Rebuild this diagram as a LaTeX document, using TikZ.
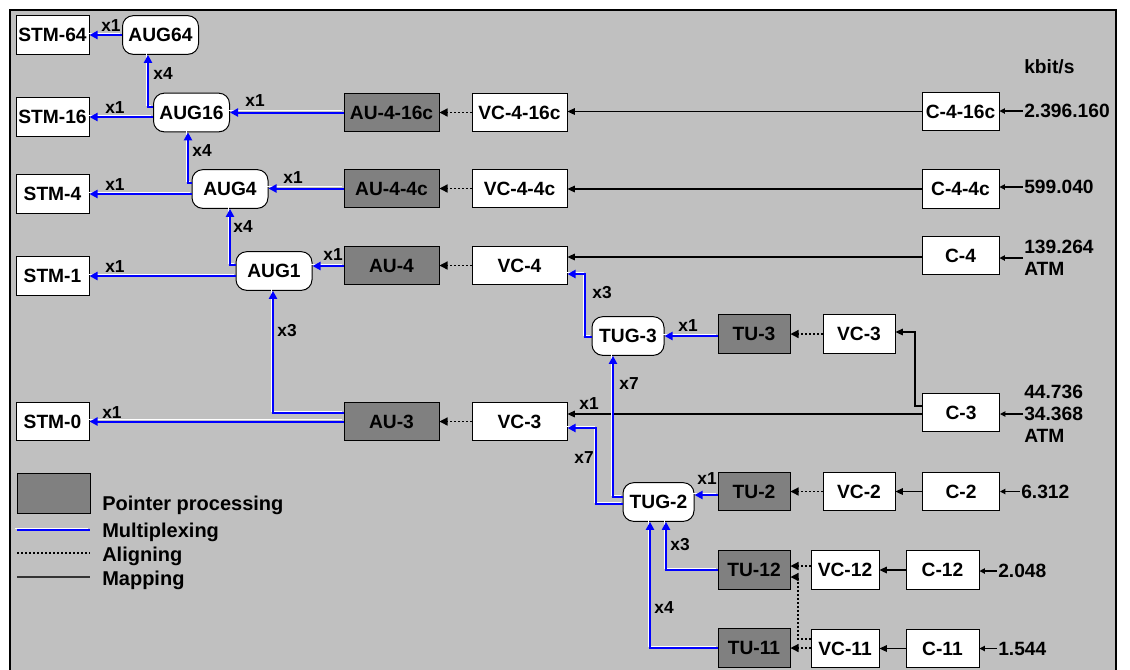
\documentclass[tikz,border=0pt]{standalone}
\usepackage{fontspec}
\setmainfont{Liberation Sans}
\usetikzlibrary{arrows.meta,calc}
\definecolor{bg}{HTML}{C0C0C0}
\definecolor{pp}{HTML}{808080}
\definecolor{muxc}{HTML}{0000FF}
\begin{document}
\begin{tikzpicture}[x=0.75pt,y=-0.75pt,
  every node/.style={font=\fontsize{14.4pt}{16.5pt}\selectfont\bfseries, inner sep=0pt},
  box/.style={draw=black, line width=0.75pt, fill=white, minimum height=29pt},
  ppbox/.style={box, fill=pp},
  rbox/.style={box, rounded corners=8pt},
  stmbox/.style={box, minimum width=54.75pt},
  augbox/.style={rbox, minimum width=57pt},
  aubox/.style={ppbox, minimum width=71.25pt},
  vcbox/.style={box, minimum width=71.25pt},
  cbox/.style={box, minimum width=57.75pt},
  tubox/.style={ppbox, minimum width=54pt},
  smbox/.style={box, minimum width=54pt},
  lab/.style={font=\fontsize{13pt}{15pt}\selectfont\bfseries},
  legt/.style={anchor=base west, font=\fontsize{15pt}{17pt}\selectfont\bfseries},
  rate/.style={anchor=west, align=left, inner sep=0.75pt},
  muxl/.style={draw=muxc, line width=1.5pt, preaction={draw=white, line width=0.9pt, arrows=-, transform canvas={shift={(-1.3pt,1.3pt)}}}},
  muxa/.style={muxl, -{Triangle[length=6pt,width=6pt]}},
  mapl/.style={draw=black, line width=0.8pt},
  mapa/.style={mapl, -{Triangle[length=5.5pt,width=5pt]}},
  ratea/.style={mapl, -{Triangle[length=4pt,width=4pt]}},
  alil/.style={draw=black, line width=1pt, dash pattern=on 1.5pt off 1.5pt},
  alia/.style={alil, -{Triangle[length=6pt,width=6pt]}},
]
\useasboundingbox (0,0) rectangle (1130,669);
\clip (0,0) rectangle (1130,669);
\fill[white] (0,0) rectangle (1130,669);
\draw[fill=bg, line width=1.5pt] (10,10) rectangle (1116,700);

% STM column
\node[stmbox] (stm64) at (52.5,35) {STM-64};
\node[stmbox] (stm16) at (52.5,117) {STM-16};
\node[stmbox] (stm4) at (52.5,194) {STM-4};
\node[stmbox] (stm1) at (52.5,276) {STM-1};
\node[stmbox] (stm0) at (52.5,421.5) {STM-0};

% AUG
\node[augbox] (aug64) at (160.5,35) {AUG64};
\node[augbox] (aug16) at (191.5,112.5) {AUG16};
\node[augbox] (aug4) at (230,189) {AUG4};
\node[augbox] (aug1) at (274,271) {AUG1};

% AU
\node[aubox] (au416) at (391.5,112.5) {AU-4-16c};
\node[aubox] (au44) at (391.5,188.5) {AU-4-4c};
\node[aubox] (au4) at (391.5,265.5) {AU-4};
\node[aubox] (au3) at (391.5,421.5) {AU-3};

% VC
\node[vcbox] (vc416) at (519.5,112.5) {VC-4-16c};
\node[vcbox] (vc44) at (519.5,188.5) {VC-4-4c};
\node[vcbox] (vc4) at (519.5,265.5) {VC-4};
\node[vcbox] (vc3l) at (519.5,421.5) {VC-3};

% C
\node[cbox] (c416) at (960.5,111.5) {C-4-16c};
\node[cbox] (c44) at (960.5,189) {C-4-4c};
\node[cbox] (c4) at (960.5,255.5) {C-4};
\node[cbox] (c3) at (961,412.5) {C-3};
\node[cbox] (c2) at (961,491.5) {C-2};

% lower part
\node[smbox] (vc3r) at (859,334) {VC-3};
\node[smbox] (vc2) at (859,491.5) {VC-2};
\node[tubox] (tu3) at (754,334) {TU-3};
\node[tubox] (tu2) at (754,491.5) {TU-2};
\node[tubox] (tu12) at (754,570) {TU-12};
\node[tubox] (tu11) at (754,648) {TU-11};
\node[rbox, minimum width=54pt] (tug3) at (628,336) {TUG-3};
\node[rbox, minimum width=53.25pt] (tug2) at (658.5,502) {TUG-2};
\node[box, minimum width=51pt] (vc12) at (845,570) {VC-12};
\node[box, minimum width=51pt] (vc11) at (845,648.5) {VC-11};
\node[stmbox] (c12) at (942.5,570) {C-12};
\node[stmbox] (c11) at (942.5,648.5) {C-11};

% rates
\node[rate] (kb) at (1023,67) {kbit/s};
\node[rate] (r1) at (1023,111) {2.396.160};
\node[rate] (r2) at (1023,187) {599.040};
\node[rate] (r3) at (1023,258) {139.264\\ATM};
\node[rate] (r4) at (1023,414) {44.736\\34.368\\ATM};
\node[rate] (r5) at (1020,491.5) {6.312};
\node[rate] (r6) at (997,571) {2.048};
\node[rate] (r7) at (997,648.5) {1.544};
\draw[ratea] (r1.west) -- (c416.east |- r1.west);
\draw[ratea] (r2.west) -- (c44.east |- r2.west);
\draw[ratea] (r3.west) -- (c4.east |- r3.west);
\draw[ratea] (r4.west) -- (c3.east |- r4.west);
\draw[ratea] (r5.west) -- (c2.east |- r5.west);
\draw[ratea] (r6.west) -- (c12.east |- r6.west);
\draw[ratea] (r7.west) -- (c11.east |- r7.west);

% mapping
\draw[mapa] (c416.west) -- (vc416.east |- c416.west);
\draw[mapa] (c44.west) -- (vc44.east |- c44.west);
\draw[mapa] (c4.west |- 0,257) -- (vc4.east |- 0,257);
\draw[mapa] (c3.west |- 0,414) -- (vc3l.east |- 0,414);
\draw[mapa] (c3.west |- 0,406) -| (915,332) -- (vc3r.east |- 0,332);
\draw[mapa] (c2.west) -- (vc2.east |- c2.west);
\draw[mapa] (c12.west) -- (vc12.east |- c12.west);
\draw[mapa] (c11.west) -- (vc11.east |- c11.west);

% aligning
\draw[alia] (vc416.west) -- (au416.east);
\draw[alia] (vc44.west) -- (au44.east);
\draw[alia] (vc4.west) -- (au4.east);
\draw[alia] (vc3l.west) -- (au3.east);
\draw[alia] (vc3r.west) -- (tu3.east |- vc3r.west);
\draw[alia] (vc2.west) -- (tu2.east |- vc2.west);
\draw[alia] (vc12.west |- 0,566) -- (tu12.east |- 0,566);
\draw[alia] (vc11.west |- 0,639) -| (798,577) -- (tu12.east |- 0,577);
\draw[alia] (vc11.west |- 0,648) -- (tu11.east |- 0,648);

% multiplexing
\draw[muxa] (aug64.west) -- (stm64.east);
\draw[muxa] (aug16.west |- stm16.east) -- (stm16.east);
\draw[muxa] (aug4.west |- stm4.east) -- (stm4.east);
\draw[muxa] (aug1.west |- stm1.east) -- (stm1.east);
\draw[muxa] (au3.west) -- (stm0.east |- au3.west);
\draw[muxa] (aug16.west |- 0,107) -| (148,0 |- aug64.south);
\draw[muxa] (aug4.west |- 0,183) -| (188,0 |- aug16.south);
\draw[muxa] (aug1.west |- 0,265) -| (230,0 |- aug4.south);
\draw[muxa] (au3.west |- 0,413) -| (273,0 |- aug1.south);
\draw[muxa] (au416.west) -- (aug16.east |- au416.west);
\draw[muxa] (au44.west) -- (aug4.east |- au44.west);
\draw[muxa] (au4.west |- 0,266) -- (aug1.east |- 0,266);
\draw[muxa] (tug3.west |- 0,337) -| (585,274) -- (vc4.east |- 0,274);
\draw[muxa] (tu3.west |- 0,336) -- (tug3.east |- 0,336);
\draw[muxa] (tug2.west |- 0,497) -| (613,0 |- tug3.south);
\draw[muxa] (tug2.west |- 0,504) -| (596,428) -- (vc3l.east |- 0,428);
\draw[muxa] (tu2.west |- 0,495) -- (tug2.east |- 0,495);
\draw[muxa] (tu12.west) -| (666,0 |- tug2.south);
\draw[muxa] (tu11.west) -| (650,0 |- tug2.south);

% multiplicity labels
\node[lab] (l1) at (111,26) {x1};
\node[lab] (l2) at (115,108) {x1};
\node[lab] (l3) at (115,185) {x1};
\node[lab] (l4) at (115,267) {x1};
\node[lab] (l5) at (112,413) {x1};
\node[lab] (l6) at (163,74) {x4};
\node[lab] (l7) at (202,151) {x4};
\node[lab] (l8) at (243,227) {x4};
\node[lab] (l9) at (287,331) {x3};
\node[lab] (l10) at (255,101) {x1};
\node[lab] (l11) at (293,178) {x1};
\node[lab] (l12) at (333,255) {x1};
\node[lab] (l13) at (602,293) {x3};
\node[lab] (l14) at (688,326) {x1};
\node[lab] (l15) at (629,384) {x7};
\node[lab] (l16) at (589,404) {x1};
\node[lab] (l17) at (584,458) {x7};
\node[lab] (l18) at (707,479) {x1};
\node[lab] (l19) at (680,545) {x3};
\node[lab] (l20) at (664,608) {x4};

% legend
\node[ppbox, minimum width=54.75pt, minimum height=30pt] (lgpp) at (53.5,493) {};
\node[legt] (ltpp) at (102,510) {Pointer processing};
\coordinate (lma) at (17,530);
\coordinate (lmb) at (90,530);
\draw[muxl] (lma) -- (lmb);
\node[legt] (ltmu) at (102,537) {Multiplexing};
\coordinate (laa) at (17,553);
\coordinate (lab) at (90,553);
\draw[alil] (laa) -- (lab);
\node[legt] (ltal) at (102,561) {Aligning};
\coordinate (lpa) at (17,577);
\coordinate (lpb) at (90,577);
\draw[draw=black!80, line width=1.5pt] (lpa) -- (lpb);
\node[legt] (ltma) at (102,585) {Mapping};
\end{tikzpicture}
\end{document}
